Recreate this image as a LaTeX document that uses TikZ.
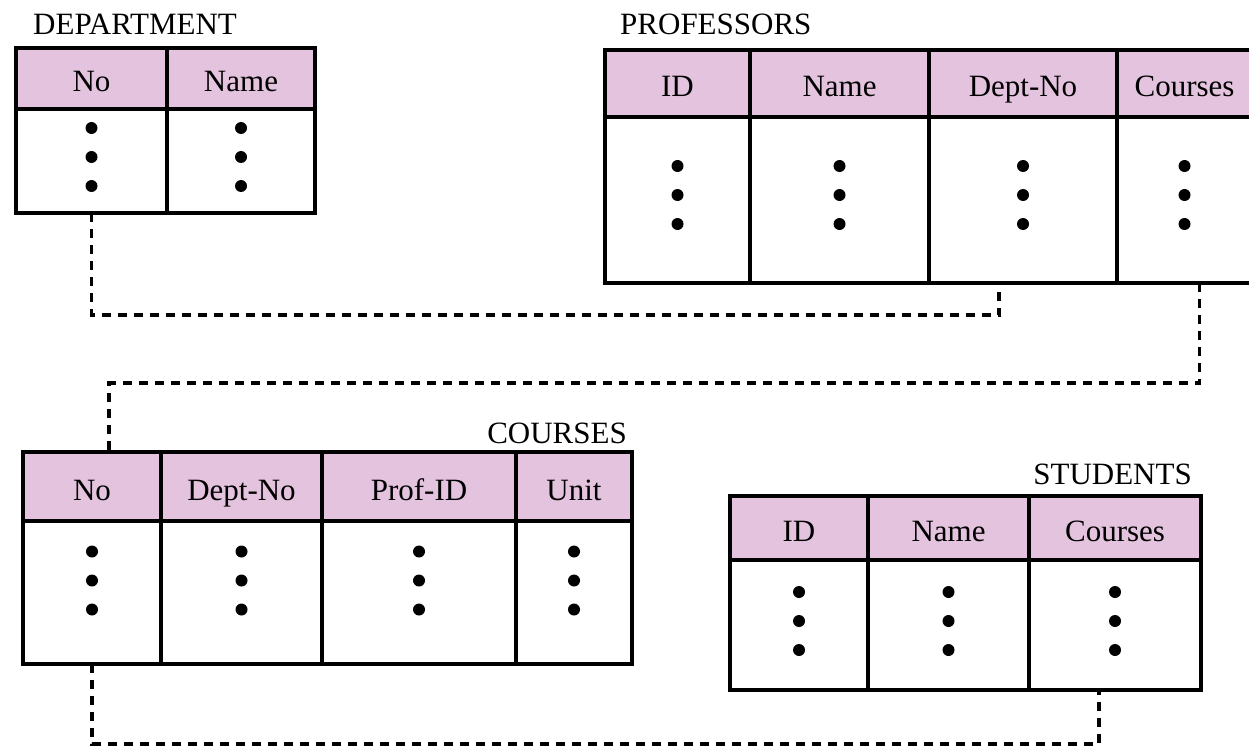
\documentclass[tikz,border=0pt]{standalone}
\usepackage{fontspec}
\setmainfont{Liberation Serif}
\usetikzlibrary{positioning,calc}
\definecolor{headpink}{RGB}{228,195,222}

\begin{document}
\begin{tikzpicture}[x=1pt,y=-1pt,node distance=0pt,
	cell/.style={draw,line width=4pt,outer sep=0pt,inner sep=0pt,font=\fontsize{31}{37}\selectfont},
	head/.style={cell,fill=headpink,minimum height=#1,text height=27pt,text depth=0pt},
	body/.style={cell,minimum height=#1},
	bullets/.style={path picture={\foreach \d in {-29,0,29}
		\fill ($(path picture bounding box.center)+(0,\d-#1)$) circle (6pt);}},
	title/.style={inner sep=0pt,font=\fontsize{31}{37}\selectfont},
	link/.style={line width=3.6pt,dash pattern=on 9pt off 7pt}]
	\useasboundingbox (0,0) rectangle (1249,746);

	% DEPARTMENT
	\node[title,anchor=base west] (dtitle) at (33,35) {DEPARTMENT};
	\node[head=61pt,minimum width=151pt,anchor=north west] (dno) at (16,48) {No};
	\node[head=61pt,minimum width=148pt,right=of dno] (dname) {Name};
	\node[body=104pt,minimum width=151pt,bullets=4,below=of dno] (dnoB) {};
	\node[body=104pt,minimum width=148pt,bullets=4,below=of dname] (dnameB) {};

	% PROFESSORS
	\node[title,anchor=base west] (ptitle) at (620,35) {PROFESSORS};
	\node[head=67pt,minimum width=145pt,anchor=north west] (pid) at (605,50) {ID};
	\node[head=67pt,minimum width=179pt,right=of pid] (pname) {Name};
	\node[head=67pt,minimum width=188pt,right=of pname] (pdept) {Dept-No};
	\node[head=67pt,minimum width=135pt,right=of pdept] (pcrs) {Courses};
	\node[body=166pt,minimum width=145pt,bullets=5,below=of pid] (pidB) {};
	\node[body=166pt,minimum width=179pt,bullets=5,below=of pname] (pnameB) {};
	\node[body=166pt,minimum width=188pt,bullets=5,below=of pdept] (pdeptB) {};
	\node[body=166pt,minimum width=135pt,bullets=5,below=of pcrs] (pcrsB) {};

	% COURSES
	\node[title,anchor=base east] (ctitle) at (627,443) {COURSES};
	\node[head=69pt,minimum width=138pt,anchor=north west] (cno) at (23,452) {No};
	\node[head=69pt,minimum width=161pt,right=of cno] (cdept) {Dept-No};
	\node[head=69pt,minimum width=194pt,right=of cdept] (cprof) {Prof-ID};
	\node[head=69pt,minimum width=116pt,right=of cprof] (cunit) {Unit};
	\node[body=143pt,minimum width=138pt,bullets=12,below=of cno] (cnoB) {};
	\node[body=143pt,minimum width=161pt,bullets=12,below=of cdept] (cdeptB) {};
	\node[body=143pt,minimum width=194pt,bullets=12,below=of cprof] (cprofB) {};
	\node[body=143pt,minimum width=116pt,bullets=12,below=of cunit] (cunitB) {};

	% STUDENTS
	\node[title,anchor=base east] (stitle) at (1192,484) {STUDENTS};
	\node[head=64pt,minimum width=138pt,anchor=north west] (sid) at (730,496) {ID};
	\node[head=64pt,minimum width=161pt,right=of sid] (sname) {Name};
	\node[head=64pt,minimum width=172pt,right=of sname] (scrs) {Courses};
	\node[body=130pt,minimum width=138pt,bullets=4,below=of sid] (sidB) {};
	\node[body=130pt,minimum width=161pt,bullets=4,below=of sname] (snameB) {};
	\node[body=130pt,minimum width=172pt,bullets=4,below=of scrs] (scrsB) {};

	% links
	\draw[link] (dnoB.south) -- ++(0,102) -| ($(pdeptB.south)+(-24,0)$);
	\draw[link] ($(pcrsB.south)+(15,0)$) -- ++(0,100) -| ($(cno.north)+(17,0)$);
	\draw[link] (cnoB.south) -- ++(0,80) -| ($(scrsB.south)+(-16,0)$);
\end{tikzpicture}
\end{document}
